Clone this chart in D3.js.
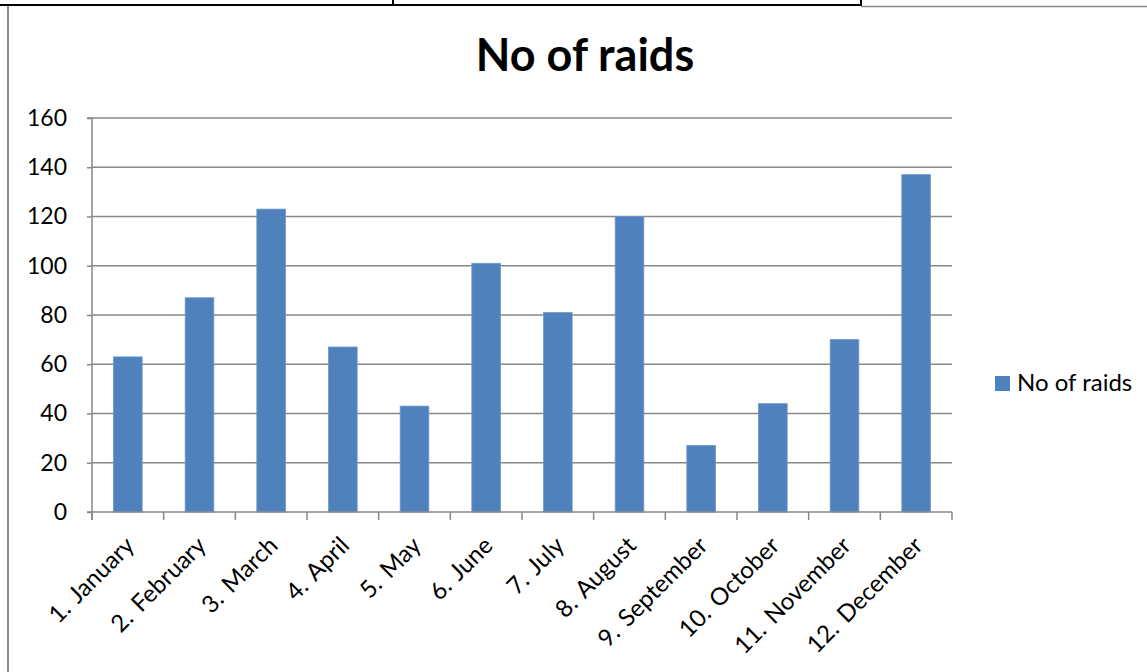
<!DOCTYPE html>
<html><head><meta charset="utf-8">
<script src="https://cdn.jsdelivr.net/npm/d3@7"></script>
<style>html,body{margin:0;padding:0;background:#fff;}svg{display:block;}</style>
</head><body>
<svg id="chart" width="1147" height="672"></svg>
<script>
const categories = ["1. January","2. February","3. March","4. April","5. May","6. June","7. July","8. August","9. September","10. October","11. November","12. December"];
const values = [63, 87, 123, 67, 43, 101, 81, 120, 27, 44, 70, 137];
const yTicks = [0, 20, 40, 60, 80, 100, 120, 140, 160];
const seriesName = "No of raids";
const title = "No of raids";

(function(){
const svg = d3.select("#chart");
const font = "Lato, 'Open Sans', sans-serif";
const pLeft = 92, pRight = 952, pTop = 118, pBottom = 512;

// page frame lines
svg.append("line").attr("x1",0).attr("x2",861).attr("y1",5).attr("y2",5).attr("stroke","#000").attr("stroke-width",2);
svg.append("line").attr("x1",393).attr("x2",393).attr("y1",0).attr("y2",5).attr("stroke","#000").attr("stroke-width",2);
svg.append("line").attr("x1",861).attr("x2",861).attr("y1",0).attr("y2",6).attr("stroke","#000").attr("stroke-width",2);
svg.append("line").attr("x1",861).attr("x2",1147).attr("y1",6.5).attr("y2",6.5).attr("stroke","#8a8a8a").attr("stroke-width",1.5);
svg.append("line").attr("x1",8).attr("x2",8).attr("y1",6).attr("y2",672).attr("stroke","#8a8a8a").attr("stroke-width",2);

const x = d3.scaleBand().domain(categories).range([pLeft, pRight]).paddingInner(0.6).paddingOuter(0.3);
const step = (pRight-pLeft)/categories.length;
const y = d3.scaleLinear().domain([0,160]).range([pBottom, pTop]);

// gridlines
svg.append("g").selectAll("line").data(yTicks.filter(d=>d>0)).join("line")
  .attr("x1", pLeft).attr("x2", pRight).attr("y1", d=>y(d)).attr("y2", d=>y(d))
  .attr("stroke", "#888").attr("stroke-width", 1.5);

// bars
svg.append("g").selectAll("rect").data(values).join("rect")
  .attr("x", (d,i)=>x(categories[i]))
  .attr("width", x.bandwidth())
  .attr("y", d=>y(d))
  .attr("height", d=>pBottom - y(d))
  .attr("fill", "#4f81bd")
  .attr("stroke", "#6f98cb").attr("stroke-width", 0.8);

// y axis
const yAxis = d3.axisLeft(y).tickValues(yTicks).tickSize(5).tickPadding(20).tickFormat(d3.format("d"));
const gy = svg.append("g").attr("transform", `translate(${pLeft},0)`).call(yAxis);
gy.select(".domain").attr("stroke","#888").attr("stroke-width",1.5).attr("d", `M-5,${pTop}H0V${pBottom+8}`);
gy.selectAll(".tick line").attr("stroke","#888").attr("stroke-width",1.5);
gy.selectAll(".tick text").attr("font-family", font).attr("font-size", 23).attr("fill","#000");

// x axis line & ticks at boundaries
const bounds = d3.range(categories.length+1).map(i => pLeft + i*step);
svg.append("line").attr("x1", pLeft-5).attr("x2", pRight).attr("y1", pBottom).attr("y2", pBottom).attr("stroke","#888").attr("stroke-width",1.5);
svg.append("g").selectAll("line").data(bounds).join("line")
  .attr("x1", d=>d).attr("x2", d=>d).attr("y1", pBottom).attr("y2", pBottom+8)
  .attr("stroke","#888").attr("stroke-width",1.5);

// x labels
svg.append("g").selectAll("text").data(categories).join("text")
  .attr("transform", d => `translate(${x(d)+x.bandwidth()/2+8},${pBottom+35}) rotate(-45)`)
  .attr("text-anchor","end")
  .attr("font-family", font).attr("font-size", 24).attr("fill","#000")
  .attr("word-spacing", 3)
  .text(d=>d);

// title
svg.append("text").attr("x", 585).attr("y", 71).attr("text-anchor","middle")
  .attr("font-family", font).attr("font-weight","bold").attr("font-size", 45).attr("fill","#000")
  .text(title);

// legend
svg.append("rect").attr("x", 995).attr("y", 376).attr("width", 15).attr("height", 15).attr("fill","#4f81bd");
svg.append("text").attr("x", 1017).attr("y", 391).attr("font-family", font).attr("font-size", 24).attr("fill","#000").text(seriesName);
})();
</script>
</body></html>
